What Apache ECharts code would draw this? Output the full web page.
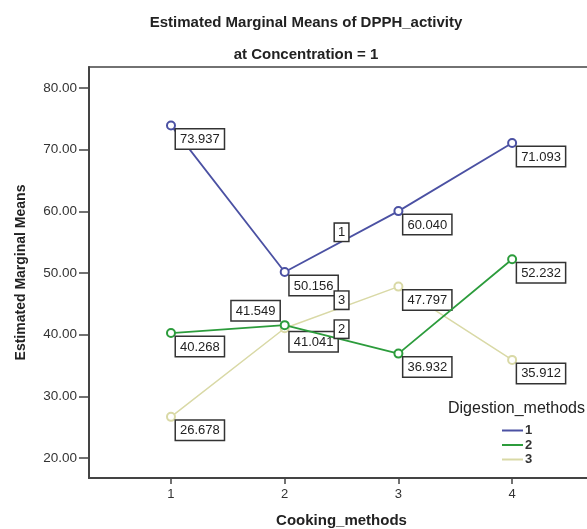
<!DOCTYPE html>
<html>
<head>
<meta charset="utf-8">
<script src="https://cdn.jsdelivr.net/npm/echarts@6/dist/echarts.min.js"></script>
<style>
html,body{margin:0;padding:0;background:#fff;}
#c{width:587px;height:529px;}
</style>
</head>
<body>
<div id="c"></div>
<script>
// ---- data ----
const cookingMethods = [1, 2, 3, 4];
const digestionMethods = ['1', '2', '3'];
const dig1 = [73.937, 50.156, 60.040, 71.093];
const dig2 = [40.268, 41.549, 36.932, 52.232];
const dig3 = [26.678, 41.041, 47.797, 35.912];
const seriesTagPos = [[2.5, 56.6], [2.5, 40.9], [2.5, 45.6]]; // "1","2","3" tag boxes
const yTicks = [20, 30, 40, 50, 60, 70, 80];
const xTicks = [1, 2, 3, 4];

const FONT = 'Arial, "Liberation Sans", sans-serif';
const colors = ['#4b51a3', '#2c9c3c', '#d9d9a6'];
const values = [dig1, dig2, dig3];

const boxLabel = {
  show: true,
  position: [10, 9],
  align: 'left',
  verticalAlign: 'top',
  fontFamily: FONT,
  fontSize: 13,
  lineHeight: 14,
  color: '#222',
  backgroundColor: '#fff',
  borderColor: '#333',
  borderWidth: 1.5,
  padding: [3, 4, 2, 4],
  formatter: p => p.value[1].toFixed(3)
};

const series = values.map((vals, si) => ({
  name: digestionMethods[si],
  type: 'line',
  symbol: 'emptyCircle',
  symbolSize: 8,
  color: colors[si],
  lineStyle: { width: si === 2 ? 1.5 : 1.8, color: colors[si] },
  itemStyle: { color: colors[si], borderWidth: 1.3 },
  data: vals.map((v, i) => {
    const d = { value: [cookingMethods[i], v] };
    if (si === 1 && i === 1) d.label = { position: [-48, -19] };
    return d;
  }),
  label: boxLabel,
  z: 3 - si,
  markPoint: {
    symbol: 'rect',
    symbolSize: 0,
    silent: true,
    data: [{ coord: seriesTagPos[si], value: digestionMethods[si] }],
    label: {
      show: true,
      position: 'inside',
      formatter: digestionMethods[si],
      fontFamily: FONT,
      fontSize: 13,
      lineHeight: 14,
      color: '#222',
      backgroundColor: '#fff',
      borderColor: '#333',
      borderWidth: 1.5,
      padding: [2, 3, 1, 3]
    }
  }
}));

const chart = echarts.init(document.getElementById('c'), null, { renderer: 'canvas' });
chart.setOption({
  animation: false,
  backgroundColor: '#fff',
  title: [
    { text: 'Estimated Marginal Means of DPPH_activity', left: 301, top: 10, textAlign: 'center',
      textStyle: { fontFamily: FONT, fontSize: 15, fontWeight: 'bold', color: '#222' } },
    { text: 'at Concentration = 1', left: 301, top: 42, textAlign: 'center',
      textStyle: { fontFamily: FONT, fontSize: 15, fontWeight: 'bold', color: '#222' } },
    { text: 'Digestion_methods', left: 443, top: 396,
      textStyle: { fontFamily: FONT, fontSize: 16, fontWeight: 'normal', color: '#222' } }
  ],
  legend: {
    orient: 'vertical',
    left: 497,
    top: 419,
    itemWidth: 21,
    itemHeight: 2,
    itemGap: 1.5,
    icon: 'rect',
    data: digestionMethods,
    textStyle: { fontFamily: FONT, fontSize: 13, lineHeight: 13, fontWeight: 'bold', color: '#333', padding: [0, 0, 0, -3] }
  },
  grid: {
    left: 89, top: 67, width: 505, height: 411,
    outerBoundsMode: 'none',
    containLabel: false,
    show: true, borderColor: '#444', borderWidth: 1.5, backgroundColor: '#fff'
  },
  xAxis: {
    type: 'value',
    min: 0.279,
    max: 4.72,
    name: 'Cooking_methods',
    nameLocation: 'middle',
    nameGap: 35,
    nameTextStyle: { fontFamily: FONT, fontSize: 15, fontWeight: 'bold', color: '#222' },
    axisLine: { show: true, lineStyle: { color: '#444', width: 2 } },
    axisTick: { show: true, length: 6, inside: false, customValues: xTicks, lineStyle: { color: '#444', width: 1.5 } },
    axisLabel: { customValues: xTicks, fontFamily: FONT, fontSize: 13, color: '#333', margin: 10 },
    splitLine: { show: false }
  },
  yAxis: {
    type: 'value',
    min: 16.76,
    max: 83.41,
    name: 'Estimated Marginal Means',
    nameLocation: 'middle',
    nameGap: 61,
    nameTextStyle: { fontFamily: FONT, fontSize: 14, fontWeight: 'bold', color: '#222' },
    axisLine: { show: true, lineStyle: { color: '#444', width: 2 } },
    axisTick: { show: true, length: 10, customValues: yTicks, lineStyle: { color: '#444', width: 1.5 } },
    axisLabel: { customValues: yTicks, fontFamily: FONT, fontSize: 13.5, color: '#333', margin: 12,
      formatter: v => v.toFixed(2) },
    splitLine: { show: false }
  },
  series: series
});
</script>
</body>
</html>
